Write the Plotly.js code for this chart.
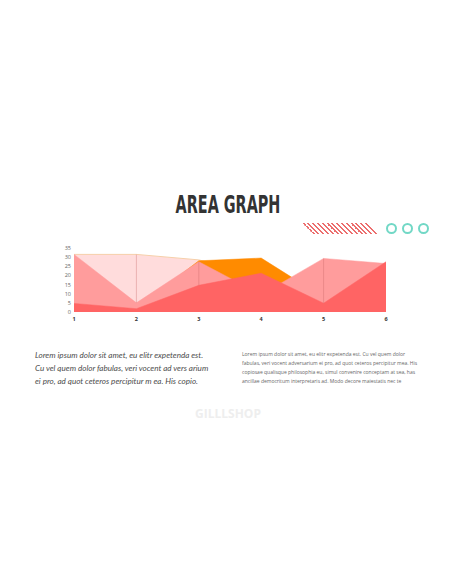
<!DOCTYPE html>
<html>
<head>
<meta charset="utf-8">
<script src="https://cdn.plot.ly/plotly-3.0.1.min.js"></script>
<style>
  html, body { margin: 0; padding: 0; background: #fff; }
  #page { position: relative; width: 456px; height: 586px; overflow: hidden; }
  #plot { position: absolute; left: 0; top: 0; width: 456px; height: 586px; }
  .title {
    position: absolute; left: 128px; top: 190px; width: 200px; text-align: center;
    font-family: "DejaVu Sans Condensed", "Liberation Sans Narrow", sans-serif;
    font-weight: bold; font-size: 25px; color: #333;
    transform: scaleX(0.64); transform-origin: center;
  }
  .stripes {
    position: absolute; left: 302px; top: 223px; width: 65px; height: 11px;
    transform: skewX(45deg); transform-origin: top left;
    background: repeating-linear-gradient(90deg, #ec6e6e 0 2px, transparent 2px 4.8px);
  }
  .ring {
    position: absolute; top: 223px; width: 7px; height: 7px;
    border: 2.6px solid #72d8c6; border-radius: 50%;
  }
  .left-txt {
    position: absolute; left: 35px; top: 349px; width: 210px; white-space: nowrap;
    font-family: Lato, "Open Sans", sans-serif; font-style: italic; font-weight: 400;
    font-size: 8.1px; line-height: 13px; color: #4d4d4d;
  }
  .right-txt {
    position: absolute; left: 242px; top: 350px; width: 200px; white-space: nowrap;
    font-family: "Open Sans", sans-serif;
    font-size: 5px; line-height: 9px; color: #666;
  }
  .mark {
    position: absolute; left: 0; top: 405px; width: 456px; text-align: center;
    font-family: "Open Sans", sans-serif; font-weight: bold; font-size: 12px; color: #eeeeee;
  }
</style>
</head>
<body>
<div id="page">
  <div id="plot"></div>
  <div class="title">AREA GRAPH</div>
  <div class="stripes"></div>
  <div class="ring" style="left:386px"></div>
  <div class="ring" style="left:402px"></div>
  <div class="ring" style="left:418px"></div>
  <div class="left-txt">Lorem ipsum dolor sit amet, eu elitr expetenda est.<br>Cu vel quem dolor fabulas, veri vocent ad vers arium<br>ei pro, ad quot ceteros percipitur m ea. His copio.</div>
  <div class="right-txt">Lorem ipsum dolor sit amet, eu elitr expetenda est. Cu vel quem dolor<br>fabulas, veri vocent adversarium ei pro, ad quot ceteros percipitur mea. His<br>copiosae qualisque philosophia eu, simul convenire conceptam at sea, has<br>ancillae democritum interpretaris ad. Modo decore maiestatis nec te</div>
  <div class="mark">GILLLSHOP</div>
</div>
<script>
var categories = [1, 2, 3, 4, 5, 6];
var lightPink = [31.5, 31.5, 28.5, 20, 5, 3];
var orange = [3, 2, 28, 29.5, 8, 10];
var midPink = [31.5, 5, 27.5, 9.5, 29.3, 26.5];
var red = [4.7, 1.8, 14.6, 21.2, 4.8, 27.5];
var yTicks = [0, 5, 10, 15, 20, 25, 30, 35];

// thin seams where segments meet (x=2, 3, 5)
var seamX = [], seamY = [];
[[1, lightPink, midPink], [2, midPink, red], [4, midPink, red]].forEach(function (s) {
  var i = s[0];
  seamX.push(categories[i], categories[i], null);
  seamY.push(s[1][i], s[2][i], null);
});

var data = [
  { x: categories, y: lightPink, type: 'scatter', mode: 'lines', fill: 'tozeroy',
    fillcolor: '#ffdcdc', line: { color: '#f6cfa9', width: 1 }, hoverinfo: 'none' },
  { x: categories, y: orange, type: 'scatter', mode: 'lines', fill: 'tozeroy',
    fillcolor: '#ff8b00', line: { color: '#ff8b00', width: 0.5 }, hoverinfo: 'none' },
  { x: categories, y: midPink, type: 'scatter', mode: 'lines', fill: 'tozeroy',
    fillcolor: '#ff9c9c', line: { color: '#ff9c9c', width: 0.5 }, hoverinfo: 'none' },
  { x: categories, y: red, type: 'scatter', mode: 'lines', fill: 'tozeroy',
    fillcolor: '#ff6464', line: { color: '#ff6464', width: 0.5 }, hoverinfo: 'none' },
  { x: seamX, y: seamY, type: 'scatter', mode: 'lines',
    line: { color: 'rgba(200,100,100,0.45)', width: 0.8 }, hoverinfo: 'none' }
];

var layout = {
  width: 456, height: 586,
  margin: { l: 74, r: 70, t: 248, b: 274, pad: 0 },
  paper_bgcolor: 'rgba(0,0,0,0)', plot_bgcolor: 'rgba(0,0,0,0)',
  showlegend: false,
  xaxis: {
    range: [1, 6], tickvals: categories, ticks: '', showgrid: false, zeroline: false,
    showline: false, ticklabelstandoff: 2,
    tickfont: { family: 'Open Sans, sans-serif', size: 5.5, color: '#333', weight: 'bold' }
  },
  yaxis: {
    range: [0, 35], tickvals: yTicks, ticks: '', showgrid: false, zeroline: false,
    showline: false, ticklabelstandoff: 2,
    tickfont: { family: 'Open Sans, sans-serif', size: 5.5, color: '#666' }
  }
};

Plotly.newPlot('plot', data, layout, { staticPlot: true, displayModeBar: false });
</script>
</body>
</html>
